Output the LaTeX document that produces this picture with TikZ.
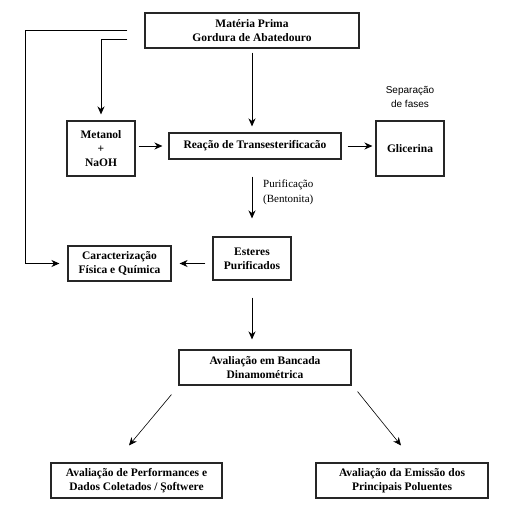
\documentclass[tikz,border=0pt]{standalone}
\usepackage{fontspec}
\setmainfont{Liberation Serif}
\newfontfamily\sansf{Liberation Sans}
\usetikzlibrary{arrows.meta,calc}
\begin{document}
\begin{tikzpicture}[x=1pt,y=1pt,
  box/.style={draw=black!85,line width=1.1pt,align=center,inner sep=1pt,
    font=\fontsize{11.5}{14}\selectfont\bfseries,text=black},
  arr/.style={line width=1pt,-{Stealth[length=8pt,width=7pt,inset=2.5pt]}},
  thinarr/.style={line width=0.6pt,-{Stealth[length=8pt,width=7pt,inset=2.5pt]}},
  lbl/.style={font=\fontsize{11}{15}\selectfont,align=left,inner sep=0pt},
  slbl/.style={font=\sansf\fontsize{10}{14}\selectfont,align=center,inner sep=0pt}]
\useasboundingbox (0,0) rectangle (530,-514);
\node[box,minimum width=214pt,minimum height=35pt] (mp) at (252,-30.5) {Matéria Prima\\Gordura de Abatedouro};
\node[box,minimum width=68pt,minimum height=55pt] (met) at (101,-148.5) {Metanol\\+\\NaOH};
\node[box,minimum width=172pt,minimum height=26pt] (rea) at (255,-146) {Reação de Transesterificacão};
\node[box,minimum width=68pt,minimum height=55pt] (gli) at (410,-148.5) {Glicerina};
\node[box,minimum width=78pt,minimum height=43pt] (est) at (252,-258.5) {Esteres\\Purificados};
\node[box,minimum width=103pt,minimum height=35pt] (car) at (119.5,-263.5) {Caracterização\\Física e Química};
\node[box,minimum width=172pt,minimum height=35pt] (ava) at (265,-367.5) {Avaliação em Bancada\\Dinamométrica};
\node[box,minimum width=171pt,minimum height=35pt] (perf) at (136.5,-480.5) {Avaliação de Performances e\\Dados Coletados / Şoftwere};
\node[box,minimum width=172pt,minimum height=35pt] (emi) at (402,-480.5) {Avaliação da Emissão dos\\Principais Poluentes};
\node[slbl] (sep) at (410,-97) {Separação\\de fases};
\node[lbl,anchor=west] (pur) at (263,-192.5) {Purificação\\(Bentonita)};
\coordinate (lft) at (25,-30);
% connectors
\draw[arr,shorten <=4pt,shorten >=6pt] (mp.south) -- (mp.south |- rea.north);
\draw[arr,shorten <=17pt,shorten >=6pt] ([yshift=-8.5pt]mp.west) -| (met.north);
\draw[arr,shorten >=8pt] ([yshift=0.5pt]mp.west) ++(-17pt,0) -- (lft) |- (car.west);
\draw[arr,shorten <=3pt,shorten >=6pt] (met.east |- rea.west) -- (rea.west);
\draw[arr,shorten <=6pt,shorten >=3pt] (rea.east) -- (rea.east -| gli.west);
\draw[arr,shorten <=17pt,shorten >=18pt] (est.north |- rea.south) -- (est.north);
\draw[arr,shorten <=7pt,shorten >=8pt] (est.west |- car.east) -- (car.east);
\draw[arr,shorten <=17pt,shorten >=10pt] (est.south) -- (est.south |- ava.north);
\draw[thinarr] ([shift={(-7pt,-9pt)}]ava.south west) -- ([shift={(-7.5pt,17pt)}]perf.north);
\draw[thinarr] ([shift={(6pt,-6pt)}]ava.south east) -- ([shift={(-1pt,17pt)}]emi.north);
\end{tikzpicture}
\end{document}
